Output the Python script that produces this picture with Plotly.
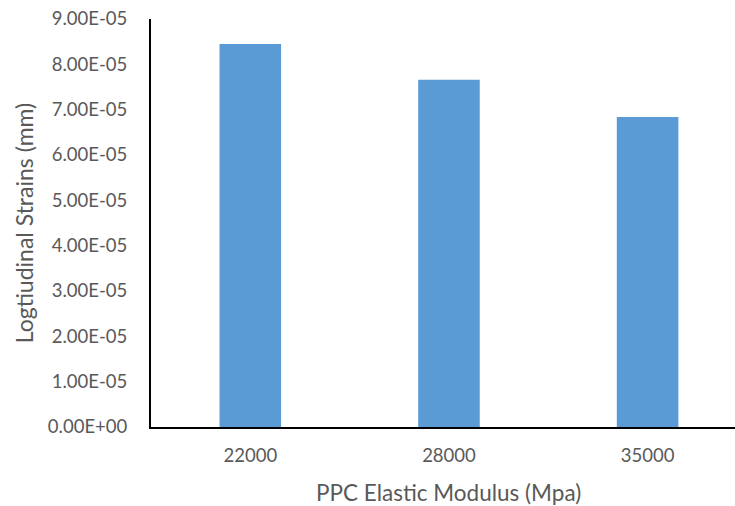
import plotly.graph_objects as go

categories = ["22000", "28000", "35000"]
strains = [8.45e-05, 7.66e-05, 6.84e-05]
y_tick_values = [0, 1e-05, 2e-05, 3e-05, 4e-05, 5e-05, 6e-05, 7e-05, 8e-05, 9e-05]
y_tick_labels = ["0.00E+00", "1.00E-05", "2.00E-05", "3.00E-05", "4.00E-05",
                 "5.00E-05", "6.00E-05", "7.00E-05", "8.00E-05", "9.00E-05"]

FONT = "Lato, Open Sans, sans-serif"
GRAY = "#595959"

fig = go.Figure(go.Bar(x=categories, y=strains, width=0.31,
                       marker=dict(color="#5B9BD5", line=dict(width=0))))

fig.update_layout(
    width=735, height=506,
    margin=dict(l=151, r=0, t=19, b=79),
    paper_bgcolor="white", plot_bgcolor="white",
    showlegend=False,
    font=dict(family=FONT, color=GRAY, size=18.5),
    xaxis=dict(
        type="category", range=[-0.5, 2.44],
        showline=True, linecolor="black", linewidth=2,
        showgrid=False, ticks="", zeroline=False,
        tickfont=dict(size=18.5, color=GRAY), ticklabelstandoff=11,
    ),
    yaxis=dict(
        range=[0, 9e-05], tickvals=y_tick_values, ticktext=y_tick_labels,
        showline=True, linecolor="black", linewidth=2,
        showgrid=False, ticks="", zeroline=False,
        tickfont=dict(size=18.5, color=GRAY), ticklabelstandoff=18,
        title=dict(text="Logtiudinal Strains (mm)", font=dict(size=23, color=GRAY), standoff=8),
    ),
    annotations=[dict(
        text="PPC Elastic Modulus (Mpa)", xref="paper", yref="paper",
        x=(448 - 151) / 584, y=0, yshift=-65, xanchor="center", yanchor="middle",
        showarrow=False, font=dict(size=22.5, color=GRAY, family=FONT),
    )],
)

fig.write_html("out.html", config={"displayModeBar": False},
               post_script="document.body.style.margin='0';document.body.style.overflow='hidden';")
